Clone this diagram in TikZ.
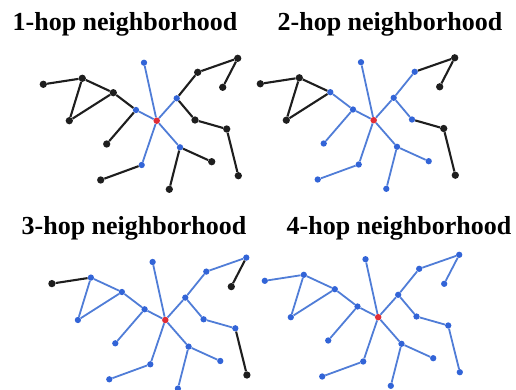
\documentclass[tikz,border=0pt]{standalone}
\usepackage{fontspec}
\setmainfont{Liberation Serif}
\definecolor{hopblue}{RGB}{50,100,215}
\definecolor{edgeblue}{RGB}{80,125,215}
\definecolor{rootred}{RGB}{225,45,55}
\definecolor{outgray}{RGB}{30,30,30}
\tikzstyle{indot} = [circle, inner sep=0pt, minimum size=6.3pt, fill=hopblue]
\tikzstyle{outdot} = [circle, inner sep=0pt, minimum size=7.3pt, fill=outgray]
\tikzstyle{rootdot} = [circle, inner sep=0pt, minimum size=6.5pt, fill=rootred]
\tikzstyle{inedge} = [line width=1.8pt, draw=edgeblue]
\tikzstyle{outedge} = [line width=2.1pt, draw=outgray]
\tikzstyle{title} = [font=\bfseries\fontsize{26}{30}\selectfont, inner sep=0pt]

\begin{document}
\begin{tikzpicture}[x=1pt, y=-1pt]
	\useasboundingbox (0,0) rectangle (516,390);
	
	\foreach \p/\dx/\dy/\tx/\ty in {1/0/0/125/24, 2/217/-0.5/390/24, 3/8.6/199.3/134/228, 4/221.5/196.5/399/228}{
		\node[title] (title\p) at (\tx,\ty) {\p-hop neighborhood};
		\begin{scope}[shift={(\dx,\dy)}]
			\node[rootdot] (root\p) at (156.7,120.7) {};
			\foreach \n/\x/\y/\h in {a/43.3/84.3/4, b/82.3/78.3/3, c/113.3/92.7/2, d/69.3/120.7/3, e/136/110/1, f/144/62.7/1, g/176.7/98.3/1, h/197.7/72.3/2, i/237.7/58.3/3, j/222.7/87.3/4, k/195/120/2, l/226.7/129/3, m/238.3/175.7/4, n/180/147.3/1, o/211.7/161.7/2, q/169.3/189.3/2, r/141.7/165/1, s/100.7/180/2, t/106.7/144/2}{
				\ifnum\h>\p \def\dotstyle{outdot}\else\def\dotstyle{indot}\fi
				\node[\dotstyle] (\n\p) at (\x,\y) {};
			}
			\foreach \u/\v/\h in {a/b/4, b/c/3, b/d/3, d/c/3, c/e/2, e/root/1, e/t/2, root/f/1, root/g/1, g/h/2, h/i/3, i/j/4, g/k/2, k/l/3, l/m/4, root/n/1, n/o/2, n/q/2, root/r/1, r/s/2}{
				\ifnum\h>\p \def\edgestyle{outedge}\else\def\edgestyle{inedge}\fi
				\draw[\edgestyle] (\u\p) -- (\v\p);
			}
		\end{scope}
	}
	
\end{tikzpicture}
\end{document}
